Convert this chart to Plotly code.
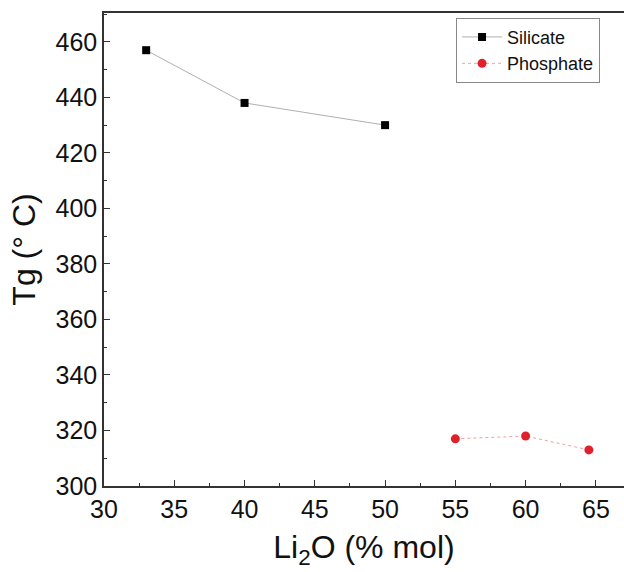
import plotly.graph_objects as go

silicate_x = [33, 40, 50]
silicate_y = [457, 438, 430]
phosphate_x = [55, 60, 64.5]
phosphate_y = [317, 318, 313]

x_ticks = [30, 35, 40, 45, 50, 55, 60, 65]
y_ticks = [300, 320, 340, 360, 380, 400, 420, 440, 460]

FONT = "Liberation Sans, Arial"

fig = go.Figure()
fig.add_trace(go.Scatter(
    x=silicate_x, y=silicate_y, name="Silicate", mode="lines+markers",
    line=dict(color="#b0b0b0", width=1),
    marker=dict(symbol="square", size=8, color="black"),
))
fig.add_trace(go.Scatter(
    x=phosphate_x, y=phosphate_y, name="Phosphate", mode="lines+markers",
    line=dict(color="#f2a0a4", width=1, dash="dot"),
    marker=dict(symbol="circle", size=9, color="#e0202a"),
))

axis_common = dict(
    showgrid=False, zeroline=False, showline=True, linecolor="#333333", linewidth=1.5,
    ticks="inside", ticklen=6, tickwidth=1.2, tickcolor="#333333",
    tickfont=dict(family=FONT, size=25, color="#111111"),
    automargin=False,
)

fig.update_layout(
    width=624, height=572,
    margin=dict(l=104, r=0, t=13, b=86),
    plot_bgcolor="white", paper_bgcolor="white",
    showlegend=True,
    legend=dict(
        x=0.677, y=0.99, xanchor="left", yanchor="top",
        bordercolor="#888888", borderwidth=1, bgcolor="white",
        font=dict(family=FONT, size=18, color="#111111"),
        tracegroupgap=0, itemwidth=40,
    ),
    xaxis=dict(
        **axis_common, range=[30, 67.0], tickvals=x_ticks, mirror=True,
        minor=dict(ticks="inside", ticklen=3, dtick=2.5, tickcolor="#333333", tickwidth=1),
        title=dict(text="Li<sub>2</sub>O (% mol)", font=dict(family=FONT, size=32, color="#111111"), standoff=14),
    ),
    yaxis=dict(
        **axis_common, range=[300, 470.4], tickvals=y_ticks,
        minor=dict(ticks="inside", ticklen=3, dtick=10, tickcolor="#333333", tickwidth=1),
        title=dict(text="Tg (° C)", font=dict(family=FONT, size=32, color="#111111"), standoff=10),
    ),
)

fig.write_html("out.html")
